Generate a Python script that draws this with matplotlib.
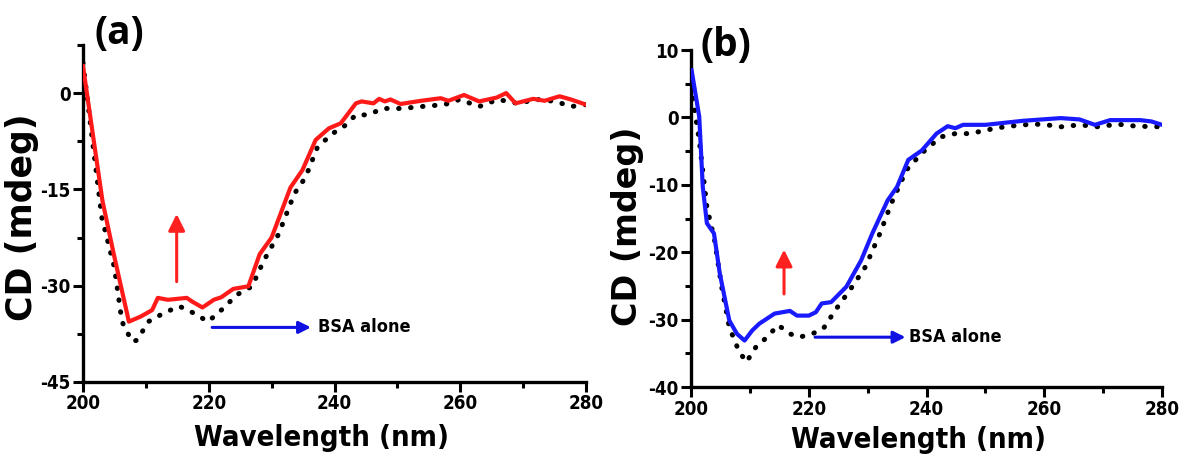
import numpy as np
import matplotlib
matplotlib.use("Agg")
import matplotlib.pyplot as plt
from matplotlib.ticker import MultipleLocator

plt.rcParams['axes.unicode_minus'] = False

# panel (a): BSA + compound (red) and BSA alone (dotted)
wl_a_red = [200, 203.1, 204.9, 207.3, 209.2, 211, 211.9, 213.5, 216.5, 217.4, 219,
            220.8, 222, 223.9, 226.3, 228.1, 230, 233, 234.9, 237, 239.1, 241,
            243.4, 244.3, 246.2, 247.1, 248, 248.9, 250.5, 253.8, 256.9, 258.1,
            260.6, 263, 265.8, 267.3, 268.8, 271.6, 273.4, 275.8, 277.6, 280]
cd_a_red = [4.2, -16.8, -25.1, -35.6, -34.8, -33.8, -31.9, -32.2, -31.9, -32.5, -33.4,
            -32.2, -31.8, -30.5, -30.1, -25.1, -22.5, -14.7, -12.0, -7.3, -5.5, -4.7,
            -1.6, -1.3, -1.6, -0.9, -1.3, -1.0, -1.7, -1.2, -0.8, -1.2,
            -0.3, -1.3, -0.7, 0.0, -1.6, -0.9, -1.2, -0.5, -1.0, -1.8]
wl_a_bsa = [200, 203, 205, 206.2, 207.8, 208.6, 210.4, 212.8, 215.3, 217.1, 219.9,
            222, 224.5, 226.9, 228.7, 231.1, 233.6, 235.4, 237.3, 239.7, 241.5,
            243.4, 245.3, 247.7, 250.8, 253.8, 257.5, 259.9, 263, 266, 269.1,
            272.2, 275.2, 277.6, 280]
cd_a_bsa = [4.7, -19.4, -27.2, -35.6, -38.7, -38.5, -35.6, -34.3, -33.2, -34.0, -35.6,
            -33.8, -31.4, -30.1, -26.2, -22.0, -15.7, -13.1, -8.4, -6.3, -5.2,
            -3.4, -3.4, -2.4, -2.4, -2.1, -1.8, -1.0, -2.1, -1.0, -1.6,
            -1.0, -1.3, -2.1, -1.8]

# panel (b): BSA + compound (blue) and BSA alone (dotted)
wl_b_blue = [200.1, 201.4, 202, 202.7, 203.9, 204.9, 206.5, 207.8, 209.1, 210.4, 211.6,
             214.2, 215.5, 216.8, 218, 220, 221.2, 222.2, 223.8, 226.4, 228.9,
             230.8, 233.4, 235, 236.9, 239.2, 241.7, 243.6, 244.9, 246.2, 250,
             253.2, 256.4, 259.6, 262.8, 266, 268.6, 271.2, 273.7, 276.3, 278.2, 280]
cd_b_blue = [7.0, 0.1, -10.3, -15.7, -17.2, -23.2, -30.1, -32.1, -33.1, -31.6, -30.6,
             -29.1, -28.9, -28.7, -29.4, -29.4, -28.9, -27.6, -27.4, -25.1, -21.2,
             -17.2, -12.3, -10.3, -6.3, -4.9, -2.4, -1.3, -1.6, -1.1, -1.1,
             -0.8, -0.5, -0.3, -0.1, -0.3, -1.1, -0.4, -0.4, -0.4, -0.6, -1.1]
wl_b_bsa = [200, 201.4, 202.7, 204, 205.2, 206.5, 208.1, 209.4, 211, 212.9, 214.8,
            216.8, 218.4, 220.6, 222.5, 224.5, 227, 229.6, 232.1, 234, 236.6,
            239.2, 242.4, 244.9, 247.5, 250, 253.2, 256.4, 259.6, 262.8, 266,
            269.2, 272.4, 275.6, 280]
cd_b_bsa = [4.6, -3.4, -13.3, -18.2, -25.1, -31.1, -34.6, -36.3, -34.1, -32.6, -30.8,
            -32.1, -32.6, -32.1, -31.3, -28.6, -25.6, -22.2, -17.2, -12.8, -7.8,
            -5.3, -2.9, -2.4, -2.4, -1.9, -1.4, -1.1, -1.0, -1.4, -1.1,
            -1.4, -1.0, -1.3, -1.4]

# narrow bold text, like the Arial Narrow of the original
nfont = dict(family='DejaVu Sans', fontstretch='condensed', fontweight='bold')
dots = (0, (0.1, 2.3))


def style_axes(ax, ylim, ymaj, ymin, ylab_xy, xlab_xy, ylab_size):
    ax.set_xlim(200, 280)
    ax.set_ylim(*ylim)
    ax.xaxis.set_major_locator(MultipleLocator(20))
    ax.xaxis.set_minor_locator(MultipleLocator(10))
    ax.yaxis.set_major_locator(MultipleLocator(ymaj))
    ax.yaxis.set_minor_locator(MultipleLocator(ymin))
    for s in ['top', 'right']:
        ax.spines[s].set_visible(False)
    for s in ['left', 'bottom']:
        ax.spines[s].set_linewidth(2.4)
    ax.tick_params(which='major', length=7, width=2.2, direction='out', pad=2)
    ax.tick_params(which='minor', length=4, width=2.2, direction='out')
    for lab in ax.get_xticklabels() + ax.get_yticklabels():
        lab.set_family('DejaVu Sans')
        lab.set_stretch('condensed')
        lab.set_fontweight('bold')
        lab.set_fontsize(13.5)
    ax.set_xlabel('Wavelength (nm)', fontsize=21, **nfont)
    ax.xaxis.label.set_va('center')
    ax.xaxis.set_label_coords(*xlab_xy)
    ax.set_ylabel('CD (mdeg)', fontweight='bold', fontsize=ylab_size)
    ax.yaxis.label.set_va('center')
    ax.yaxis.set_label_coords(*ylab_xy)


fig = plt.figure(figsize=(11.82, 4.63), dpi=100)
ax1 = fig.add_axes([0.0702, 0.175, 0.4256, 0.728])
ax2 = fig.add_axes([0.5846, 0.164, 0.3985, 0.728])

ax1.plot(wl_a_bsa, cd_a_bsa, color='black', lw=3.6, linestyle=dots,
         dash_capstyle='round', zorder=2)
ax1.plot(wl_a_red, cd_a_red, color='#ff1a1a', lw=3.0, zorder=3)
style_axes(ax1, (-45, 7.5), 15, 7.5, (-0.122, 0.49), (0.475, -0.166), 25)
ax1.annotate('', xy=(214.9, -18.4), xytext=(214.9, -29.8),
             arrowprops=dict(arrowstyle='-|>', color='#ff2020', lw=2.2,
                             mutation_scale=25))
ax1.annotate('', xy=(236.7, -36.5), xytext=(220.1, -36.5),
             arrowprops=dict(arrowstyle='-|>', color='#1010e0', lw=2.2,
                             mutation_scale=18))
ax1.text(237.3, -36.5, 'BSA alone', fontsize=13, va='center', ha='left', **nfont)

ax2.plot(wl_b_bsa, cd_b_bsa, color='black', lw=3.6, linestyle=dots,
         dash_capstyle='round', zorder=2)
ax2.plot(wl_b_blue, cd_b_blue, color='#1a1aff', lw=3.0, zorder=3)
style_axes(ax2, (-40, 10), 10, 5, (-0.135, 0.478), (0.482, -0.157), 24)
ax2.annotate('', xy=(215.8, -19.2), xytext=(215.8, -26.6),
             arrowprops=dict(arrowstyle='-|>', color='#ff2020', lw=2.2,
                             mutation_scale=25))
ax2.annotate('', xy=(236.9, -32.6), xytext=(220.6, -32.6),
             arrowprops=dict(arrowstyle='-|>', color='#1010e0', lw=2.2,
                             mutation_scale=18))
ax2.text(237.1, -32.6, 'BSA alone', fontsize=13, va='center', ha='left', **nfont)

fig.text(0.080, 0.905, '(a)', fontsize=28, fontweight='bold', family=['Open Sans', 'DejaVu Sans'])
fig.text(0.593, 0.88, '(b)', fontsize=28, fontweight='bold', family=['Open Sans', 'DejaVu Sans'])

plt.savefig('out.png', dpi=100)
